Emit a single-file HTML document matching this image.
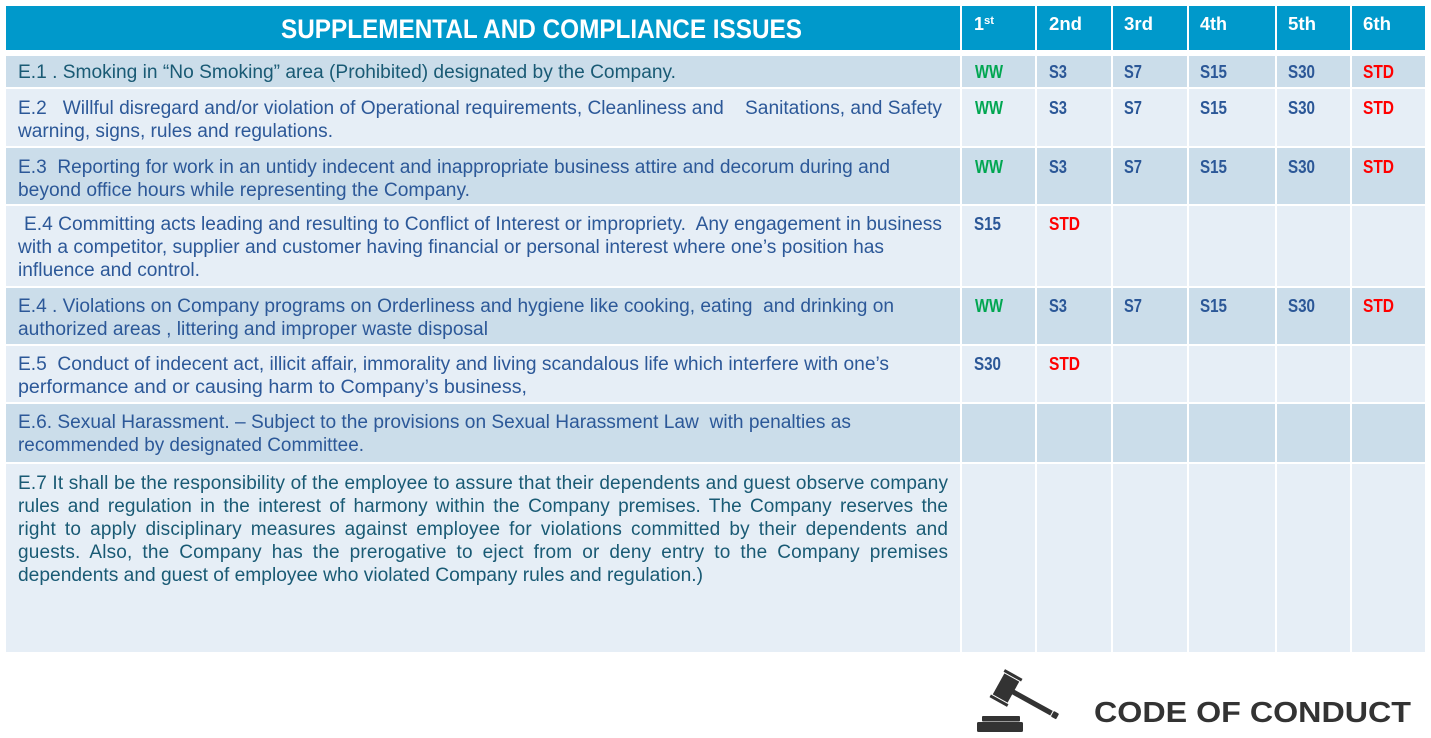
<!DOCTYPE html>
<html>
<head>
<meta charset="utf-8">
<style>
html,body{margin:0;padding:0;background:#fff;}
body{width:1431px;height:738px;overflow:hidden;}
svg{display:block;}
text{font-family:"Liberation Sans",Arial,sans-serif;white-space:pre;}
.b{font-size:19px;fill:#2c5898;}
.t{font-size:19px;fill:#195a74;}
.c{font-size:18px;font-weight:bold;}
.g{fill:#00a651;}
.s{fill:#2b5797;}
.r{fill:#ff0000;}
.h{font-size:18px;font-weight:bold;fill:#fff;}
</style>
</head>
<body>
<svg width="1431" height="738" viewBox="0 0 1431 738" xmlns="http://www.w3.org/2000/svg">
<!-- header -->
<g fill="#0099cb">
<rect x="6" y="6" width="954" height="44"/>
<rect x="962" y="6" width="73" height="44"/>
<rect x="1037" y="6" width="74" height="44"/>
<rect x="1113" y="6" width="74" height="44"/>
<rect x="1189" y="6" width="86" height="44"/>
<rect x="1277" y="6" width="73" height="44"/>
<rect x="1352" y="6" width="73" height="44"/>
</g>
<!-- rows -->
<g fill="#cbddea">
<rect x="6" y="56" width="954" height="31"/><rect x="962" y="56" width="73" height="31"/><rect x="1037" y="56" width="74" height="31"/><rect x="1113" y="56" width="74" height="31"/><rect x="1189" y="56" width="86" height="31"/><rect x="1277" y="56" width="73" height="31"/><rect x="1352" y="56" width="73" height="31"/>
<rect x="6" y="148" width="954" height="56"/><rect x="962" y="148" width="73" height="56"/><rect x="1037" y="148" width="74" height="56"/><rect x="1113" y="148" width="74" height="56"/><rect x="1189" y="148" width="86" height="56"/><rect x="1277" y="148" width="73" height="56"/><rect x="1352" y="148" width="73" height="56"/>
<rect x="6" y="288" width="954" height="56"/><rect x="962" y="288" width="73" height="56"/><rect x="1037" y="288" width="74" height="56"/><rect x="1113" y="288" width="74" height="56"/><rect x="1189" y="288" width="86" height="56"/><rect x="1277" y="288" width="73" height="56"/><rect x="1352" y="288" width="73" height="56"/>
<rect x="6" y="404" width="954" height="58"/><rect x="962" y="404" width="73" height="58"/><rect x="1037" y="404" width="74" height="58"/><rect x="1113" y="404" width="74" height="58"/><rect x="1189" y="404" width="86" height="58"/><rect x="1277" y="404" width="73" height="58"/><rect x="1352" y="404" width="73" height="58"/>
</g>
<g fill="#e6eef6">
<rect x="6" y="89" width="954" height="57"/><rect x="962" y="89" width="73" height="57"/><rect x="1037" y="89" width="74" height="57"/><rect x="1113" y="89" width="74" height="57"/><rect x="1189" y="89" width="86" height="57"/><rect x="1277" y="89" width="73" height="57"/><rect x="1352" y="89" width="73" height="57"/>
<rect x="6" y="206" width="954" height="80"/><rect x="962" y="206" width="73" height="80"/><rect x="1037" y="206" width="74" height="80"/><rect x="1113" y="206" width="74" height="80"/><rect x="1189" y="206" width="86" height="80"/><rect x="1277" y="206" width="73" height="80"/><rect x="1352" y="206" width="73" height="80"/>
<rect x="6" y="346" width="954" height="56"/><rect x="962" y="346" width="73" height="56"/><rect x="1037" y="346" width="74" height="56"/><rect x="1113" y="346" width="74" height="56"/><rect x="1189" y="346" width="86" height="56"/><rect x="1277" y="346" width="73" height="56"/><rect x="1352" y="346" width="73" height="56"/>
<rect x="6" y="464" width="954" height="188"/><rect x="962" y="464" width="73" height="188"/><rect x="1037" y="464" width="74" height="188"/><rect x="1113" y="464" width="74" height="188"/><rect x="1189" y="464" width="86" height="188"/><rect x="1277" y="464" width="73" height="188"/><rect x="1352" y="464" width="73" height="188"/>
</g>

<!-- header text -->
<text x="281" y="38" font-size="27" font-weight="bold" fill="#fff" textLength="521" lengthAdjust="spacingAndGlyphs">SUPPLEMENTAL AND COMPLIANCE ISSUES</text>
<text class="h" x="974" y="30" textLength="10" lengthAdjust="spacingAndGlyphs">1</text>
<text x="984" y="24" font-size="11" font-weight="bold" fill="#fff" textLength="10" lengthAdjust="spacingAndGlyphs">st</text>
<text class="h" x="1049" y="30" textLength="33" lengthAdjust="spacingAndGlyphs">2nd</text>
<text class="h" x="1124" y="30" textLength="29" lengthAdjust="spacingAndGlyphs">3rd</text>
<text class="h" x="1200" y="30" textLength="27" lengthAdjust="spacingAndGlyphs">4th</text>
<text class="h" x="1288" y="30" textLength="28" lengthAdjust="spacingAndGlyphs">5th</text>
<text class="h" x="1363" y="30" textLength="28" lengthAdjust="spacingAndGlyphs">6th</text>

<!-- body text -->
<text class="t" x="18" y="78" textLength="658" lengthAdjust="spacingAndGlyphs">E.1 . Smoking in “No Smoking” area (Prohibited) designated by the Company.</text>

<text class="b" x="18" y="114" textLength="924" lengthAdjust="spacingAndGlyphs">E.2   Willful disregard and/or violation of Operational requirements, Cleanliness and    Sanitations, and Safety</text>
<text class="b" x="18" y="137" textLength="315" lengthAdjust="spacingAndGlyphs">warning, signs, rules and regulations.</text>

<text class="b" x="18" y="173" textLength="872" lengthAdjust="spacingAndGlyphs">E.3  Reporting for work in an untidy indecent and inappropriate business attire and decorum during and</text>
<text class="b" x="18" y="196" textLength="452" lengthAdjust="spacingAndGlyphs">beyond office hours while representing the Company.</text>

<text class="b" x="24" y="230" textLength="918" lengthAdjust="spacingAndGlyphs">E.4 Committing acts leading and resulting to Conflict of Interest or impropriety.  Any engagement in business</text>
<text class="b" x="18" y="253" textLength="866" lengthAdjust="spacingAndGlyphs">with a competitor, supplier and customer having financial or personal interest where one’s position has</text>
<text class="b" x="18" y="276" textLength="182" lengthAdjust="spacingAndGlyphs">influence and control.</text>

<text class="b" x="18" y="312" textLength="876" lengthAdjust="spacingAndGlyphs">E.4 . Violations on Company programs on Orderliness and hygiene like cooking, eating  and drinking on</text>
<text class="b" x="18" y="335" textLength="470" lengthAdjust="spacingAndGlyphs">authorized areas , littering and improper waste disposal</text>

<text class="b" x="18" y="370" textLength="871" lengthAdjust="spacingAndGlyphs">E.5  Conduct of indecent act, illicit affair, immorality and living scandalous life which interfere with one’s</text>
<text class="b" x="18" y="393" textLength="509" lengthAdjust="spacingAndGlyphs">performance and or causing harm to Company’s business,</text>

<text class="b" x="18" y="428" textLength="833" lengthAdjust="spacingAndGlyphs">E.6. Sexual Harassment. – Subject to the provisions on Sexual Harassment Law  with penalties as</text>
<text class="b" x="18" y="451" textLength="346" lengthAdjust="spacingAndGlyphs">recommended by designated Committee.</text>

<text class="t" x="18" y="489" textLength="930" lengthAdjust="spacing">E.7 It shall be the responsibility of the employee to assure that their dependents and guest observe company</text>
<text class="t" x="18" y="512" textLength="930" lengthAdjust="spacing" style="word-spacing:3px">rules and regulation in the interest of harmony within the Company premises. The Company reserves the</text>
<text class="t" x="18" y="535" textLength="930" lengthAdjust="spacing" style="word-spacing:3.5px">right to apply disciplinary measures against employee for violations committed by their dependents and</text>
<text class="t" x="18" y="558" textLength="930" lengthAdjust="spacing" style="word-spacing:4.5px">guests. Also, the Company has the prerogative to eject from or deny entry to the Company premises</text>
<text class="t" x="18" y="581" textLength="685" lengthAdjust="spacingAndGlyphs">dependents and guest of employee who violated Company rules and regulation.)</text>

<!-- codes -->
<text class="c g" x="975" y="78" textLength="28" lengthAdjust="spacingAndGlyphs">WW</text>
<text class="c s" x="1049" y="78" textLength="18" lengthAdjust="spacingAndGlyphs">S3</text>
<text class="c s" x="1124" y="78" textLength="18" lengthAdjust="spacingAndGlyphs">S7</text>
<text class="c s" x="1200" y="78" textLength="27" lengthAdjust="spacingAndGlyphs">S15</text>
<text class="c s" x="1288" y="78" textLength="27" lengthAdjust="spacingAndGlyphs">S30</text>
<text class="c r" x="1363" y="78" textLength="31" lengthAdjust="spacingAndGlyphs">STD</text>

<text class="c g" x="975" y="114" textLength="28" lengthAdjust="spacingAndGlyphs">WW</text>
<text class="c s" x="1049" y="114" textLength="18" lengthAdjust="spacingAndGlyphs">S3</text>
<text class="c s" x="1124" y="114" textLength="18" lengthAdjust="spacingAndGlyphs">S7</text>
<text class="c s" x="1200" y="114" textLength="27" lengthAdjust="spacingAndGlyphs">S15</text>
<text class="c s" x="1288" y="114" textLength="27" lengthAdjust="spacingAndGlyphs">S30</text>
<text class="c r" x="1363" y="114" textLength="31" lengthAdjust="spacingAndGlyphs">STD</text>

<text class="c g" x="975" y="173" textLength="28" lengthAdjust="spacingAndGlyphs">WW</text>
<text class="c s" x="1049" y="173" textLength="18" lengthAdjust="spacingAndGlyphs">S3</text>
<text class="c s" x="1124" y="173" textLength="18" lengthAdjust="spacingAndGlyphs">S7</text>
<text class="c s" x="1200" y="173" textLength="27" lengthAdjust="spacingAndGlyphs">S15</text>
<text class="c s" x="1288" y="173" textLength="27" lengthAdjust="spacingAndGlyphs">S30</text>
<text class="c r" x="1363" y="173" textLength="31" lengthAdjust="spacingAndGlyphs">STD</text>

<text class="c s" x="974" y="230" textLength="27" lengthAdjust="spacingAndGlyphs">S15</text>
<text class="c r" x="1049" y="230" textLength="31" lengthAdjust="spacingAndGlyphs">STD</text>

<text class="c g" x="975" y="312" textLength="28" lengthAdjust="spacingAndGlyphs">WW</text>
<text class="c s" x="1049" y="312" textLength="18" lengthAdjust="spacingAndGlyphs">S3</text>
<text class="c s" x="1124" y="312" textLength="18" lengthAdjust="spacingAndGlyphs">S7</text>
<text class="c s" x="1200" y="312" textLength="27" lengthAdjust="spacingAndGlyphs">S15</text>
<text class="c s" x="1288" y="312" textLength="27" lengthAdjust="spacingAndGlyphs">S30</text>
<text class="c r" x="1363" y="312" textLength="31" lengthAdjust="spacingAndGlyphs">STD</text>

<text class="c s" x="974" y="370" textLength="27" lengthAdjust="spacingAndGlyphs">S30</text>
<text class="c r" x="1049" y="370" textLength="31" lengthAdjust="spacingAndGlyphs">STD</text>

<!-- gavel -->
<g fill="#333333">
<rect x="982" y="716" width="38" height="5.5" rx="1"/>
<rect x="977" y="722" width="46" height="10" rx="1.5"/>
<g transform="translate(1006,688) rotate(29)">
<rect x="8" y="-2.6" width="44" height="5.2"/>
<rect x="53" y="-3.2" width="6" height="6.4" rx="1"/>
<rect x="-8.5" y="-12" width="17" height="24"/>
<rect x="-10" y="-16" width="20" height="3"/>
<rect x="-10" y="13" width="20" height="3"/>
</g>
</g>
<text x="1094" y="722" font-size="29" font-weight="bold" fill="#333333" textLength="317" lengthAdjust="spacingAndGlyphs">CODE OF CONDUCT</text>
</svg>
</body>
</html>
